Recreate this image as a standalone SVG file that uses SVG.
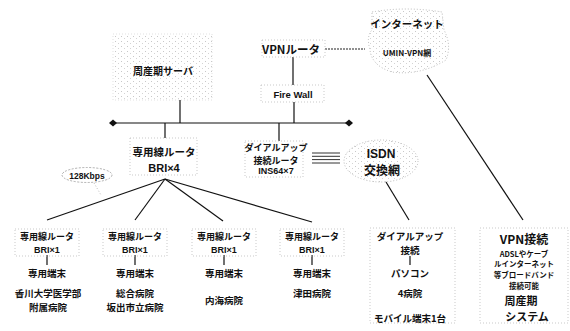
<svg xmlns="http://www.w3.org/2000/svg" width="570" height="331" viewBox="0 0 570 331">
<defs>
<pattern id="speck" width="6" height="5" patternUnits="userSpaceOnUse">
<rect x="1" y="1" width="1" height="1" fill="#c8c8c8"/>
<rect x="4" y="3" width="1" height="1" fill="#d4d4d4"/>
</pattern>
<style>
.t{font-family:"Noto Sans CJK JP","Liberation Sans",sans-serif;font-weight:bold;fill:#111;text-anchor:middle}
.a{font-family:"Liberation Sans","Noto Sans CJK JP",sans-serif;font-weight:bold;fill:#111;text-anchor:middle}
.box{fill:none;stroke:#bbb;stroke-width:0.8;stroke-dasharray:1 2}
.ln{stroke:#111;stroke-width:1.2;fill:none}
.cloud{fill:url(#speck);stroke:#aaa;stroke-width:0.8;stroke-dasharray:1 2}
</style>
</defs>
<rect width="570" height="331" fill="#fff"/>

<g id="connectors">
<line class="ln" x1="113" y1="123" x2="349" y2="123" stroke-width="1.5"/>
<path d="M109,123 L113,119.5 L117,123 L113,126.5 Z" fill="#111"/>
<path d="M345,123 L349,119.5 L353,123 L349,126.5 Z" fill="#111"/>
<line class="ln" x1="180" y1="100" x2="180" y2="123"/>
<line class="ln" x1="293" y1="57" x2="293" y2="85"/>
<line class="ln" x1="294" y1="102" x2="294" y2="123"/>
<line class="ln" x1="165" y1="123" x2="165" y2="138"/>
<line class="ln" x1="279" y1="123" x2="279" y2="141"/>
<line x1="325" y1="49" x2="365" y2="49" stroke="#222" stroke-width="1.2" stroke-dasharray="2 1"/>
<line class="ln" x1="427" y1="75" x2="523" y2="220"/>
<line x1="312" y1="153" x2="340" y2="153" stroke="#333" stroke-width="1"/>
<line x1="312" y1="156.3" x2="340" y2="156.3" stroke="#333" stroke-width="1"/>
<line x1="312" y1="159.6" x2="340" y2="159.6" stroke="#333" stroke-width="1"/>
<line x1="312" y1="163" x2="340" y2="163" stroke="#333" stroke-width="1"/>
<line class="ln" x1="386" y1="182" x2="409" y2="220"/>
<line class="ln" x1="165" y1="179" x2="47" y2="220"/>
<line class="ln" x1="165" y1="179" x2="135" y2="220"/>
<line class="ln" x1="165" y1="179" x2="223" y2="221"/>
<line class="ln" x1="165" y1="179" x2="312" y2="222"/>
<line x1="94" y1="183" x2="101" y2="195" stroke="#aaa" stroke-width="0.8" stroke-dasharray="1 2"/>
<line class="ln" x1="47" y1="255" x2="47" y2="265"/>
<line class="ln" x1="135" y1="255" x2="135" y2="265"/>
<line class="ln" x1="224" y1="255" x2="224" y2="265"/>
<line class="ln" x1="312" y1="255" x2="312" y2="265"/>
<line class="ln" x1="410" y1="256" x2="410" y2="265"/>
</g>

<g id="server">
<rect x="113" y="34" width="99" height="66" fill="url(#speck)" stroke="#ccc" stroke-width="0.6" stroke-dasharray="1 2"/>
<text class="t" x="163" y="75" font-size="10">周産期サーバ</text>
</g>

<g id="vpn-router">
<rect class="box" x="262" y="40" width="63" height="17"/>
<text class="t" x="291" y="53.5" font-size="11.5">VPNルータ</text>
</g>

<g id="firewall">
<rect class="box" x="261" y="85" width="63" height="17"/>
<text class="a" x="293" y="97.5" font-size="9.5">Fire Wall</text>
</g>

<g id="internet">
<path class="cloud" d="M372,12 Q406,6 442,12 L444,30 Q452,45 446,60 Q420,76 392,72 Q372,66 370,50 Q366,36 372,30 Z"/>
<text class="t" x="407" y="28" font-size="10.5">インターネット</text>
<text class="t" x="407" y="56" font-size="8">UMIN-VPN網</text>
</g>

<g id="leased-router">
<rect class="box" x="130" y="138" width="67" height="37"/>
<text class="t" x="164" y="155.5" font-size="10.5">専用線ルータ</text>
<text class="a" x="164" y="171.5" font-size="11">BRI×4</text>
</g>

<g id="speed">
<ellipse cx="87" cy="175" rx="25" ry="7.5" fill="#fff" stroke="#999" stroke-width="0.8" stroke-dasharray="2 1.5"/>
<text class="a" x="87" y="178.5" font-size="8.5">128Kbps</text>
</g>

<g id="dialup-router">
<rect class="box" x="245" y="141" width="58" height="36"/>
<text class="t" x="276" y="150.5" font-size="9">ダイアルアップ</text>
<text class="t" x="276" y="163.5" font-size="9">接続ルータ</text>
<text class="a" x="276" y="174" font-size="9">INS64×7</text>
</g>

<g id="isdn">
<ellipse class="cloud" cx="381" cy="161" rx="37" ry="21"/>
<text class="a" x="381" y="158" font-size="12">ISDN</text>
<text class="t" x="382" y="175" font-size="12">交換網</text>
</g>

<g id="site1">
<rect class="box" x="15" y="229" width="64" height="27"/>
<text class="t" x="47" y="240" font-size="9">専用線ルータ</text>
<text class="a" x="47" y="252.5" font-size="9">BRI×1</text>
<text class="t" x="47" y="277" font-size="9.5">専用端末</text>
<text class="t" x="48" y="297" font-size="9.5">香川大学医学部</text>
<text class="t" x="48" y="311" font-size="9.5">附属病院</text>
</g>

<g id="site2">
<rect class="box" x="103" y="229" width="64" height="27"/>
<text class="t" x="135" y="240" font-size="9">専用線ルータ</text>
<text class="a" x="135" y="252.5" font-size="9">BRI×1</text>
<text class="t" x="135" y="277" font-size="9.5">専用端末</text>
<text class="t" x="135" y="297" font-size="9.5">総合病院</text>
<text class="t" x="135" y="311" font-size="9.5">坂出市立病院</text>
</g>

<g id="site3">
<rect class="box" x="192" y="229" width="64" height="27"/>
<text class="t" x="224" y="240" font-size="9">専用線ルータ</text>
<text class="a" x="224" y="252.5" font-size="9">BRI×1</text>
<text class="t" x="224" y="277" font-size="9.5">専用端末</text>
<text class="t" x="224" y="304" font-size="9.5">内海病院</text>
</g>

<g id="site4">
<rect class="box" x="280" y="229" width="64" height="27"/>
<text class="t" x="312" y="240" font-size="9">専用線ルータ</text>
<text class="a" x="312" y="252.5" font-size="9">BRI×1</text>
<text class="t" x="312" y="277" font-size="9.5">専用端末</text>
<text class="t" x="312" y="297" font-size="9.5">津田病院</text>
</g>

<g id="site-dialup">
<rect class="box" x="370" y="228" width="85" height="95"/>
<text class="t" x="410" y="239.5" font-size="9.5">ダイアルアップ</text>
<text class="t" x="410" y="253.5" font-size="9.5">接続</text>
<text class="t" x="410" y="277" font-size="9.5">パソコン</text>
<text class="t" x="410" y="297" font-size="9.5">4病院</text>
<text class="t" x="410" y="322" font-size="9.5">モバイル端末1台</text>
</g>

<g id="site-vpn">
<rect class="box" x="480" y="228" width="88" height="95"/>
<text class="t" x="524" y="244" font-size="12">VPN接続</text>
<text class="t" x="524" y="256.5" font-size="7.5">ADSLやケーブ</text>
<text class="t" x="524" y="267.4" font-size="7.5">ルインターネット</text>
<text class="t" x="524" y="278.3" font-size="7.5">等ブロードバンド</text>
<text class="t" x="524" y="289.2" font-size="7.5">接続可能</text>
<text class="t" x="521" y="304.5" font-size="11">周産期</text>
<text class="t" x="527" y="320.5" font-size="11">システム</text>
</g>
</svg>
